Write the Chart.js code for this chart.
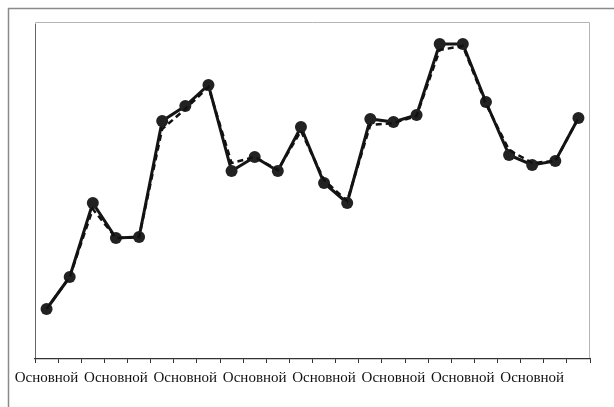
<!DOCTYPE html>
<html>
<head>
<meta charset="utf-8">
<script src="https://cdn.jsdelivr.net/npm/chart.js@4"></script>
<style>
html,body{margin:0;padding:0;background:#fff;}
#wrap{position:relative;width:614px;height:407px;}
</style>
</head>
<body>
<div id="wrap"><canvas id="c" width="614" height="407"></canvas></div>
<script>
const categories = Array.from({length: 24}, () => "Основной");
const actualValues = [50, 82, 156, 121, 122, 238, 253, 274, 188, 202, 188, 232, 176, 156, 240, 237, 244, 315, 315, 257, 204, 194, 198, 241];
const smoothedValues = [50, 82, 150, 121, 122, 230, 250, 272, 196, 202, 189, 228, 179, 158, 234, 236, 243, 309, 313, 255, 209, 196, 198, 241];
const labelEvery = 3;

const framePlugin = {
  id: 'frames',
  beforeDraw(chart) {
    const ctx = chart.ctx;
    const a = chart.chartArea;
    ctx.save();
    ctx.fillStyle = '#fff';
    ctx.fillRect(0, 0, chart.width, chart.height);
    ctx.strokeStyle = '#8a8a8a';
    ctx.lineWidth = 1.5;
    ctx.beginPath();
    ctx.moveTo(8.5, chart.height);
    ctx.lineTo(8.5, 8.5);
    ctx.lineTo(chart.width, 8.5);
    ctx.stroke();
    ctx.lineWidth = 1;
    ctx.strokeStyle = '#b5b5b5';
    ctx.beginPath();
    ctx.moveTo(a.left + 0.5, a.bottom);
    ctx.lineTo(a.left + 0.5, a.top + 0.5);
    ctx.lineTo(a.right - 0.5, a.top + 0.5);
    ctx.lineTo(a.right - 0.5, a.bottom);
    ctx.stroke();
    ctx.strokeStyle = '#666';
    ctx.beginPath();
    ctx.moveTo(a.left + 0.5, a.bottom);
    ctx.lineTo(a.left + 0.5, a.top + 2);
    ctx.stroke();
    ctx.restore();
  }
};

new Chart(document.getElementById('c'), {
  type: 'line',
  data: {
    labels: categories,
    datasets: [
      {
        data: smoothedValues,
        borderColor: '#111',
        borderWidth: 2.5,
        borderDash: [6, 4],
        pointRadius: 0,
        tension: 0,
        fill: false
      },
      {
        data: actualValues,
        borderColor: '#151515',
        borderWidth: 3,
        pointRadius: 6,
        pointBackgroundColor: '#222',
        pointBorderColor: '#222',
        pointBorderWidth: 0,
        tension: 0,
        fill: false
      }
    ]
  },
  options: {
    responsive: false,
    animation: false,
    events: [],
    layout: { padding: { left: 35, top: 22, right: 24, bottom: 14 } },
    plugins: { legend: { display: false }, tooltip: { enabled: false } },
    scales: {
      x: {
        offset: true,
        border: { display: true, color: '#333', width: 1.2 },
        grid: { display: true, drawOnChartArea: false, drawTicks: true, tickLength: 4, color: '#333', offset: true },
        ticks: {
          autoSkip: false,
          maxRotation: 0,
          padding: 6,
          color: '#111',
          font: { family: '"Liberation Serif", "DejaVu Serif", serif', size: 15 },
          callback: function(v, i) { return i % labelEvery === 0 ? categories[i] : ''; }
        }
      },
      y: {
        display: false,
        min: 0,
        max: 337
      }
    }
  },
  plugins: [framePlugin]
});
</script>
</body>
</html>
